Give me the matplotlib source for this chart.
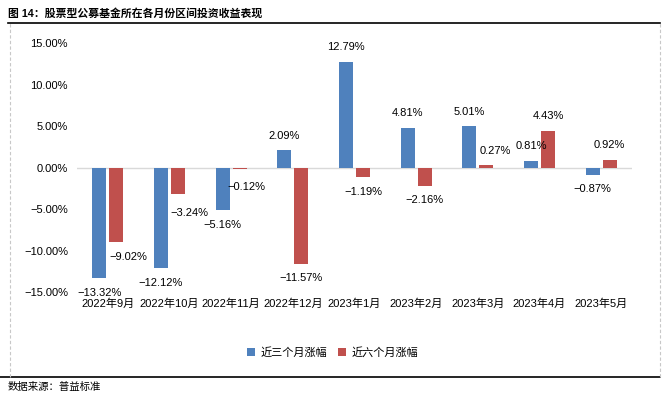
import numpy as np
import matplotlib
matplotlib.use("Agg")
import matplotlib.pyplot as plt
from matplotlib.lines import Line2D

plt.rcParams['font.family'] = ['Liberation Sans', 'Noto Sans CJK SC']

months = ['2022年9月', '2022年10月', '2022年11月', '2022年12月', '2023年1月',
          '2023年2月', '2023年3月', '2023年4月', '2023年5月']
three_month = [-13.32, -12.12, -5.16, 2.09, 12.79, 4.81, 5.01, 0.81, -0.87]
six_month = [-9.02, -3.24, -0.12, -11.57, -1.19, -2.16, 0.27, 4.43, 0.92]
series_names = ['近三个月涨幅', '近六个月涨幅']
y_ticks = [-15, -10, -5, 0, 5, 10, 15]

blue = '#4F81BD'
red = '#C0504D'


def pct(v):
    # long minus sign like the original
    return '{:.2f}%'.format(v).replace('-', '\u2212')


fig = plt.figure(figsize=(6.69, 3.97), dpi=100)
ax = fig.add_axes([0.1151, 0.2645, 0.8296, 0.6265])

x = np.arange(len(months))
w = 0.225
off = 0.138
b1 = ax.bar(x - off, three_month, w, color=blue, label=series_names[0])
b2 = ax.bar(x + off, six_month, w, color=red, label=series_names[1])

ax.axhline(0, color='#D9D9D9', linewidth=1.0, zorder=0)
ax.set_xlim(-0.5, len(months) - 0.5)
ax.set_ylim(-15, 15)
ax.set_yticks(y_ticks)
ax.set_yticklabels([pct(v) for v in y_ticks])
ax.set_xticks(x)
ax.set_xticklabels(months)
ax.tick_params(axis='both', length=0, labelsize=8)
ax.tick_params(axis='y', pad=6.5)
ax.tick_params(axis='x', pad=5)
for s in ax.spines.values():
    s.set_visible(False)

# small nudges (in points) where the original labels were moved aside
nudge_red = {0: (8.5, 0), 1: (8, -3), 2: (5, -3), 6: (6.5, 0)}


def label_bars(bars, values, nudges):
    for i, (b, v) in enumerate(zip(bars, values)):
        dx, dy = nudges.get(i, (0, 0))
        oy = 10.5 if v >= 0 else -10.5
        ax.annotate(pct(v), (b.get_x() + b.get_width() / 2, v),
                    xytext=(dx, oy + dy), textcoords='offset points',
                    ha='center', va='center', fontsize=8)


label_bars(b1, three_month, {})
label_bars(b2, six_month, nudge_red)

fig.legend(loc='center', bbox_to_anchor=(0.497, 0.113), ncol=2, frameon=False,
           handlelength=0.7, handleheight=0.7, handletextpad=0.5,
           columnspacing=1.0, prop={'family': 'Noto Sans CJK SC', 'size': 8})

# frame of the report figure
fig.text(0.012, 0.967, '图 14：股票型公募基金所在各月份区间投资收益表现',
         fontsize=7.8, fontweight='bold', va='center', ha='left')
fig.add_artist(Line2D([0.012, 0.987], [0.942, 0.942], color='black', linewidth=1.2))
fig.add_artist(Line2D([0.0, 0.987], [0.0504, 0.0504], color='black', linewidth=1.2))
for xv in [0.015, 0.9865]:
    fig.add_artist(Line2D([xv, xv], [0.0504, 0.942], color='#C8C8C8',
                          linewidth=0.8, linestyle=(0, (3, 2))))
fig.text(0.012, 0.025, '数据来源：普益标准', fontsize=7.5, va='center', ha='left')

plt.savefig('out.png', dpi=100)
